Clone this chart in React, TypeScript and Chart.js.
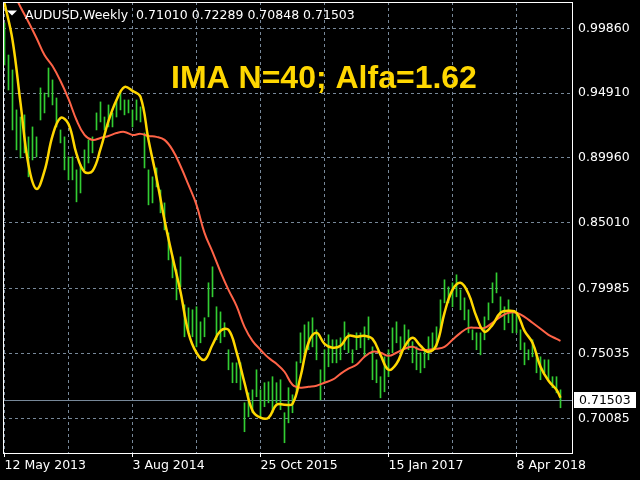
import { useEffect, useRef } from 'react';
import { Chart, registerables } from 'chart.js';

Chart.register(...registerables);

// Header and study text
const SYMBOL = 'AUDUSD,Weekly';
const LAST_OHLC = ['0.71010', '0.72289', '0.70848', '0.71503'];
const STUDY_LABEL = 'IMA N=40; Alfa=1.62';
const CLOSE_PRICE = 0.71503;

// Time axis: x values are weeks counted from 12 May 2013
const DATE_LABELS = ['12 May 2013', '3 Aug 2014', '25 Oct 2015', '15 Jan 2017', '8 Apr 2018'];
const DATE_LABEL_STEP = 64;
const GRID_STEP = 32;

// Price axis
const Y_TICKS = [0.9986, 0.9491, 0.8996, 0.8501, 0.79985, 0.75035, 0.70085];

// Weekly high/low bars (one drawn every BAR_STEP weeks)
const BAR_STEP = 2;
const BAR_HIGHS = [
  1.0026, 0.9782, 0.9668, 0.9363, 0.9309, 0.9325, 0.9157, 0.9233, 0.9157, 0.9531,
  0.9492, 0.9683, 0.9592, 0.9454, 0.921, 0.9157, 0.9004, 0.9004, 0.8905, 0.8943,
  0.9058, 0.9134, 0.9157, 0.934, 0.9424, 0.9309, 0.9401, 0.934, 0.9439, 0.95,
  0.9439, 0.9439, 0.9363, 0.9439, 0.9386, 0.9187, 0.8905, 0.8852, 0.892, 0.8752,
  0.8653, 0.8424, 0.8241, 0.8142, 0.8241, 0.7875, 0.7852, 0.7837, 0.786, 0.7745,
  0.7776, 0.8043, 0.8165, 0.786, 0.7821, 0.7738, 0.7532, 0.7432, 0.7432, 0.7432,
  0.7127, 0.7203, 0.7226, 0.7379, 0.7226, 0.728, 0.7287, 0.7326, 0.728, 0.7303,
  0.7051, 0.7242, 0.7188, 0.744, 0.7661, 0.7722, 0.7745, 0.7776, 0.7684, 0.7379,
  0.7532, 0.7646, 0.7608, 0.7608, 0.7623, 0.7745, 0.7661, 0.7532, 0.7661, 0.7661,
  0.7707, 0.7783, 0.7554, 0.7455, 0.7326, 0.7478, 0.7532, 0.7699, 0.7745, 0.7631,
  0.7722, 0.7684, 0.7593, 0.7554, 0.7509, 0.7532, 0.7631, 0.7661, 0.7707, 0.7913,
  0.8066, 0.8012, 0.8043, 0.8104, 0.7989, 0.7928, 0.7837, 0.7684, 0.7661, 0.7661,
  0.7783, 0.789, 0.8043, 0.8119, 0.7936, 0.786, 0.7913, 0.7814, 0.7814, 0.7684,
  0.7585, 0.7532, 0.7608, 0.7509, 0.7478, 0.7455, 0.7455, 0.7326, 0.7326, 0.7226,
];
const BAR_LOWS = [
  0.9706, 0.9515, 0.921, 0.9058, 0.8996, 0.9035, 0.8852, 0.8981, 0.9004, 0.9286,
  0.934, 0.9462, 0.9401, 0.9233, 0.9111, 0.8905, 0.8829, 0.8829, 0.8661, 0.8729,
  0.8905, 0.8958, 0.9035, 0.921, 0.9271, 0.921, 0.9233, 0.9233, 0.9309, 0.9363,
  0.9325, 0.934, 0.9233, 0.9286, 0.9271, 0.892, 0.8638, 0.8653, 0.8775, 0.8577,
  0.8447, 0.8218, 0.8081, 0.7913, 0.8012, 0.7631, 0.7669, 0.7631, 0.7554, 0.7585,
  0.7631, 0.7783, 0.7936, 0.7608, 0.7585, 0.7631, 0.7379, 0.728, 0.728, 0.7226,
  0.6906, 0.702, 0.7051, 0.7173, 0.702, 0.7097, 0.7127, 0.7051, 0.7127, 0.7074,
  0.6822, 0.6974, 0.7051, 0.7203, 0.7432, 0.7478, 0.7532, 0.7554, 0.7455, 0.715,
  0.728, 0.7402, 0.7432, 0.7432, 0.7455, 0.7532, 0.7509, 0.7432, 0.7532, 0.7547,
  0.7478, 0.7608, 0.7303, 0.728, 0.7165, 0.7211, 0.7326, 0.7509, 0.7585, 0.7509,
  0.7554, 0.7532, 0.7432, 0.7379, 0.7356, 0.7394, 0.7455, 0.7532, 0.7554, 0.7684,
  0.789, 0.789, 0.786, 0.7936, 0.7837, 0.776, 0.7661, 0.7608, 0.7532, 0.7493,
  0.7608, 0.776, 0.789, 0.7966, 0.7783, 0.7684, 0.7738, 0.7661, 0.7661, 0.7532,
  0.7417, 0.7455, 0.7478, 0.7356, 0.7303, 0.7356, 0.7303, 0.7242, 0.7203, 0.7089,
];

// Indicator lines, one value every LINE_STEP weeks, last one at LAST_WEEK
const LINE_STEP = 4;
const LAST_WEEK = 278;
const IMA_VALUES = [
  1.0179, 0.9897, 0.9416, 0.8943, 0.876, 0.8897, 0.9164, 0.9302, 0.9256, 0.9027,
  0.889, 0.8897, 0.9065, 0.9279, 0.9439, 0.9538, 0.9508, 0.9462, 0.9134, 0.8844,
  0.8523, 0.8241, 0.7974, 0.7661, 0.7509, 0.7455, 0.757, 0.7676, 0.7684, 0.7516,
  0.728, 0.7066, 0.7013, 0.7013, 0.7112, 0.7112, 0.7119, 0.7326, 0.7585, 0.7661,
  0.7577, 0.7547, 0.7562, 0.7638, 0.7631, 0.7638, 0.7615, 0.7493, 0.7379, 0.7425,
  0.7554, 0.7623, 0.7562, 0.7516, 0.757, 0.7814, 0.7989, 0.8043, 0.7959, 0.7783,
  0.7669, 0.7722, 0.7814, 0.7829, 0.7814, 0.7676, 0.7585, 0.7402, 0.7295, 0.7226,
  0.7165,
];
const MA_VALUES = [
  1.0385, 1.0271, 1.0149, 1.0034, 0.9912, 0.9782, 0.9698, 0.9584, 0.9447, 0.9286,
  0.9172, 0.9134, 0.9149, 0.9164, 0.9187, 0.9195, 0.9172, 0.918, 0.9164, 0.9157,
  0.9134, 0.9058, 0.8935, 0.879, 0.8638, 0.8424, 0.8279, 0.8127, 0.7989, 0.7867,
  0.7707, 0.76, 0.7532, 0.747, 0.7425, 0.7364, 0.7265, 0.7242, 0.7249, 0.7257,
  0.728, 0.7303, 0.7348, 0.7387, 0.7417, 0.7478, 0.7516, 0.7509, 0.7486, 0.7509,
  0.7539, 0.7554, 0.7532, 0.7532, 0.7539, 0.7554, 0.7608, 0.7661, 0.7699, 0.7699,
  0.7699, 0.7738, 0.7783, 0.7814, 0.7814, 0.7783, 0.7738, 0.7692, 0.7646, 0.7615,
  0.76,
];

const FONT = '"DejaVu Sans"';
const GRID_COLOR = '#778899';

const lineWeek = (k: number, n: number) => (k < n - 1 ? k * LINE_STEP : LAST_WEEK);

const mt4Plugin = {
  id: 'mt4',
  beforeDatasetsDraw(chart: Chart) {
    const { ctx, chartArea: a, scales } = chart;
    const py = Math.round(scales.y.getPixelForValue(CLOSE_PRICE)) + 0.5;
    ctx.save();
    ctx.strokeStyle = GRID_COLOR;
    ctx.lineWidth = 1;
    ctx.beginPath();
    ctx.moveTo(a.left, py);
    ctx.lineTo(a.right, py);
    ctx.stroke();
    ctx.restore();
  },
  afterDraw(chart: Chart) {
    const { ctx, chartArea: a, scales } = chart;
    ctx.save();

    // frame
    ctx.strokeStyle = '#ffffff';
    ctx.lineWidth = 1;
    ctx.strokeRect(a.left + 0.5, a.top + 0.5, a.right - a.left, a.bottom - a.top);

    // header
    ctx.fillStyle = '#ffffff';
    ctx.beginPath();
    ctx.moveTo(7, 10.5);
    ctx.lineTo(17, 10.5);
    ctx.lineTo(12, 15.5);
    ctx.closePath();
    ctx.fill();
    ctx.font = `12.5px ${FONT}`;
    ctx.textBaseline = 'alphabetic';
    ctx.textAlign = 'left';
    ctx.fillText(`${SYMBOL}  ${LAST_OHLC.join(' ')}`, 25, 19);

    // study label
    ctx.fillStyle = '#FFD700';
    ctx.font = 'bold 32px "Liberation Sans", Arial, sans-serif';
    ctx.fillText(STUDY_LABEL, 171, 88);

    // close price box on the axis
    const py = Math.round(scales.y.getPixelForValue(CLOSE_PRICE));
    ctx.fillStyle = '#ffffff';
    ctx.fillRect(a.right + 2, py - 8, 62, 16);
    ctx.fillStyle = '#000000';
    ctx.font = `12.5px ${FONT}`;
    ctx.textBaseline = 'middle';
    ctx.fillText(CLOSE_PRICE.toFixed(5), a.right + 7, py + 0.5);

    ctx.restore();
  },
};

export default function App() {
  const canvasRef = useRef<HTMLCanvasElement | null>(null);
  const chartRef = useRef<Chart | null>(null);

  useEffect(() => {
    document.body.style.margin = '0';
    document.body.style.background = '#000';
    if (!canvasRef.current) return;
    if (chartRef.current) chartRef.current.destroy();
    const ctx = canvasRef.current.getContext('2d');
    if (!ctx) return;

    const TICK_FONT = { family: FONT, size: 12.5 };

    chartRef.current = new Chart(ctx, {
      type: 'bar',
      data: {
        datasets: [
          {
            type: 'line',
            label: 'IMA',
            data: IMA_VALUES.map((v, k) => ({ x: lineWeek(k, IMA_VALUES.length), y: v })),
            borderColor: '#FFD700',
            borderWidth: 2.5,
            pointRadius: 0,
            tension: 0.4,
            order: 1,
          },
          {
            type: 'line',
            label: 'MA',
            data: MA_VALUES.map((v, k) => ({ x: lineWeek(k, MA_VALUES.length), y: v })),
            borderColor: '#FF6347',
            borderWidth: 2,
            pointRadius: 0,
            tension: 0.4,
            order: 2,
          },
          {
            type: 'bar',
            label: 'AUDUSD',
            data: BAR_HIGHS.map((h, i) => ({ x: i * BAR_STEP, y: [BAR_LOWS[i], h] })),
            backgroundColor: '#32CD32',
            borderWidth: 0,
            barThickness: 1,
            grouped: false,
            order: 3,
          },
        ] as any,
      },
      options: {
        responsive: true,
        maintainAspectRatio: false,
        animation: false,
        events: [],
        layout: { padding: { left: 3, top: 2, right: 0, bottom: 0 } },
        plugins: {
          legend: { display: false },
          tooltip: { enabled: false },
        },
        scales: {
          x: {
            type: 'linear',
            offset: false,
            min: -0.75,
            max: 283.75,
            afterBuildTicks: (axis: any) => {
              const ticks = [];
              for (let w = 0; w <= DATE_LABEL_STEP * (DATE_LABELS.length - 1); w += GRID_STEP) ticks.push({ value: w });
              axis.ticks = ticks;
            },
            afterFit: (axis: any) => {
              axis.height = 27;
              axis.paddingLeft = 0;
              axis.paddingRight = 0;
            },
            ticks: {
              autoSkip: false,
              maxRotation: 0,
              align: 'start',
              padding: 1,
              color: '#ffffff',
              font: TICK_FONT,
              callback: (v: any) => (Number(v) % DATE_LABEL_STEP === 0 ? DATE_LABELS[Number(v) / DATE_LABEL_STEP] : ''),
            },
            grid: {
              offset: false,
              color: GRID_COLOR,
              lineWidth: 1,
              drawTicks: true,
              tickLength: 4,
              tickWidth: 1,
              tickBorderDash: [],
              tickColor: (c: any) => (c.tick && c.tick.value % DATE_LABEL_STEP === 0 ? '#ffffff' : 'rgba(0,0,0,0)'),
            },
            border: { display: false, dash: [3, 3] },
          },
          y: {
            position: 'right',
            min: 0.67436,
            max: 1.01868,
            afterBuildTicks: (axis: any) => {
              axis.ticks = Y_TICKS.map((v) => ({ value: v }));
            },
            afterFit: (axis: any) => {
              axis.width = 68;
              axis.paddingTop = 0;
              axis.paddingBottom = 0;
            },
            ticks: {
              padding: 6,
              color: '#ffffff',
              font: TICK_FONT,
              callback: (v: any) => Number(v).toFixed(5),
            },
            grid: {
              color: GRID_COLOR,
              lineWidth: 1,
              drawTicks: false,
            },
            border: { display: false, dash: [3, 3] },
          },
        },
      },
      plugins: [mt4Plugin],
    });

    return () => {
      if (chartRef.current) {
        chartRef.current.destroy();
        chartRef.current = null;
      }
    };
  }, []);

  return (
    <div style={{ position: 'relative', width: 640, height: 480, background: '#000' }}>
      <canvas ref={canvasRef} aria-label="AUDUSD weekly chart with IMA" />
    </div>
  );
}
